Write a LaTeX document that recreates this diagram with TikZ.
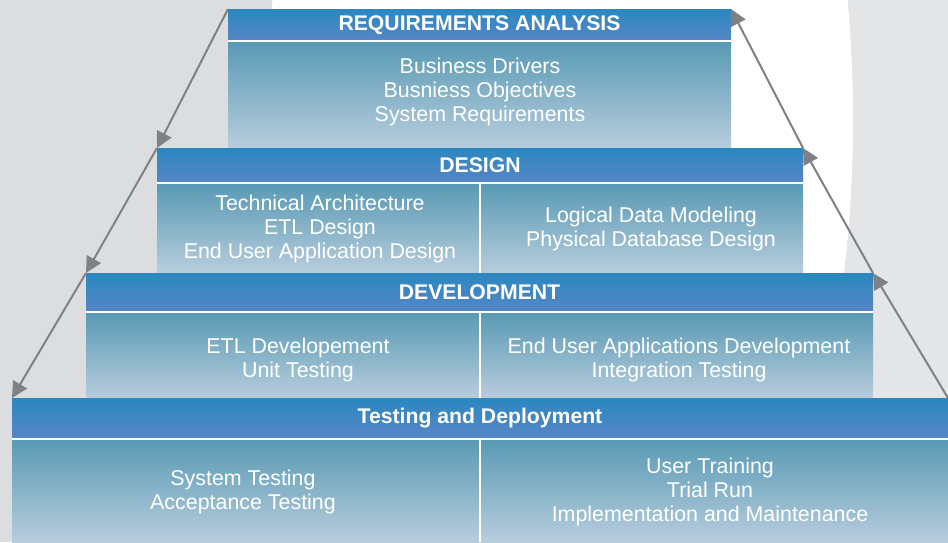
\documentclass[tikz,border=0pt]{standalone}
\usepackage{fontspec}
\setmainfont{Liberation Sans}
\usetikzlibrary{arrows.meta}
\definecolor{bggray}{RGB}{220,221,223}
\definecolor{bgright}{RGB}{228,229,231}
\definecolor{headtop}{RGB}{42,135,192}
\definecolor{headbot}{RGB}{88,134,198}
\definecolor{bodytop}{RGB}{88,153,180}
\definecolor{bodybot}{RGB}{184,205,221}
\definecolor{arrgray}{RGB}{128,129,132}
\tikzset{
  head/.style={anchor=north west,inner sep=0pt,outer sep=0pt,top color=headtop,bottom color=headbot,
    text=white,font=\fontsize{21.2}{24}\selectfont\bfseries},
  body/.style={anchor=north west,inner sep=0pt,outer sep=0pt,top color=bodytop,bottom color=bodybot},
  txt/.style={text=white,align=center,font=\fontsize{21.4}{24}\selectfont},
  sep/.style={white,line width=2pt},
  arr/.style={arrgray,line width=2pt,-{Triangle[length=16pt,width=16pt]}}
}
\begin{document}
\begin{tikzpicture}[x=1pt,y=-1pt]
                \useasboundingbox (0,0) rectangle (948,542);
                %% background
                \fill[bggray] (0,0) rectangle (560,542);
                \fill[bgright] (560,0) rectangle (948,542);
                \begin{scope}
                    \clip (0,0) rectangle (948,542);
                    \fill[white] (560,120) ellipse [x radius=293, y radius=620];
                \end{scope}
                %% requirements analysis
                \node[head,minimum width=503pt,minimum height=32pt] (r1h) at (228,9) {REQUIREMENTS ANALYSIS};
                \node[body,minimum width=503pt,minimum height=107pt] (r1b) at (r1h.south west) {};
                \draw[sep] (r1h.south west) -- (r1h.south east);
                \node[txt] (r1t) at (480,92) {Business Drivers\\Busniess Objectives\\System Requirements};
                %% design
                \node[head,minimum width=646pt,minimum height=35pt] (r2h) at (157,148) {DESIGN};
                \node[body,minimum width=646pt,minimum height=90pt] (r2b) at (r2h.south west) {};
                \draw[sep] (r2h.south west) -- (r2h.south east);
                \draw[sep,line width=1.5pt] (r2b.north) -- (r2b.south);
                \node[txt] (r2l) at (320,229) {Technical Architecture\\ETL Design\\End User Application Design};
                \node[txt] (r2r) at (651,229) {Logical Data Modeling\\Physical Database Design};
                %% development
                \node[head,minimum width=787pt,minimum height=39pt] (r3h) at (86,273) {DEVELOPMENT};
                \node[body,minimum width=787pt,minimum height=86pt] (r3b) at (r3h.south west) {};
                \draw[sep] (r3h.south west) -- (r3h.south east);
                \draw[sep,line width=1.5pt] (480,312) -- (r3b.south -| 480,0);
                \node[txt] (r3l) at (298,360) {ETL Developement\\Unit Testing};
                \node[txt] (r3r) at (679,360) {End User Applications Development\\Integration Testing};
                %% testing and deployment
                \node[head,minimum width=936pt,minimum height=41pt] (r4h) at (12,398) {Testing and Deployment};
                \node[body,minimum width=936pt,minimum height=103pt] (r4b) at (r4h.south west) {};
                \draw[sep] (r4h.south west) -- (r4h.south east);
                \draw[sep,line width=1.5pt] (r4b.north) -- (r4b.south);
                \node[txt] (r4l) at (243,492) {System Testing\\Acceptance Testing};
                \node[txt] (r4r) at (710,492) {User Training\\Trial Run\\Implementation and Maintenance};
                %% arrows down the left, up the right
                \draw[arr] (r1h.north west) -- (r2h.north west);
                \draw[arr] (r2h.north west) -- (r3h.north west);
                \draw[arr] (r3h.north west) -- (r4h.north west);
                \draw[arr] (r4h.north east) -- (r3h.north east);
                \draw[arr] (r3h.north east) -- (r2h.north east);
                \draw[arr] (r2h.north east) -- (r1h.north east);
\end{tikzpicture}
\end{document}
